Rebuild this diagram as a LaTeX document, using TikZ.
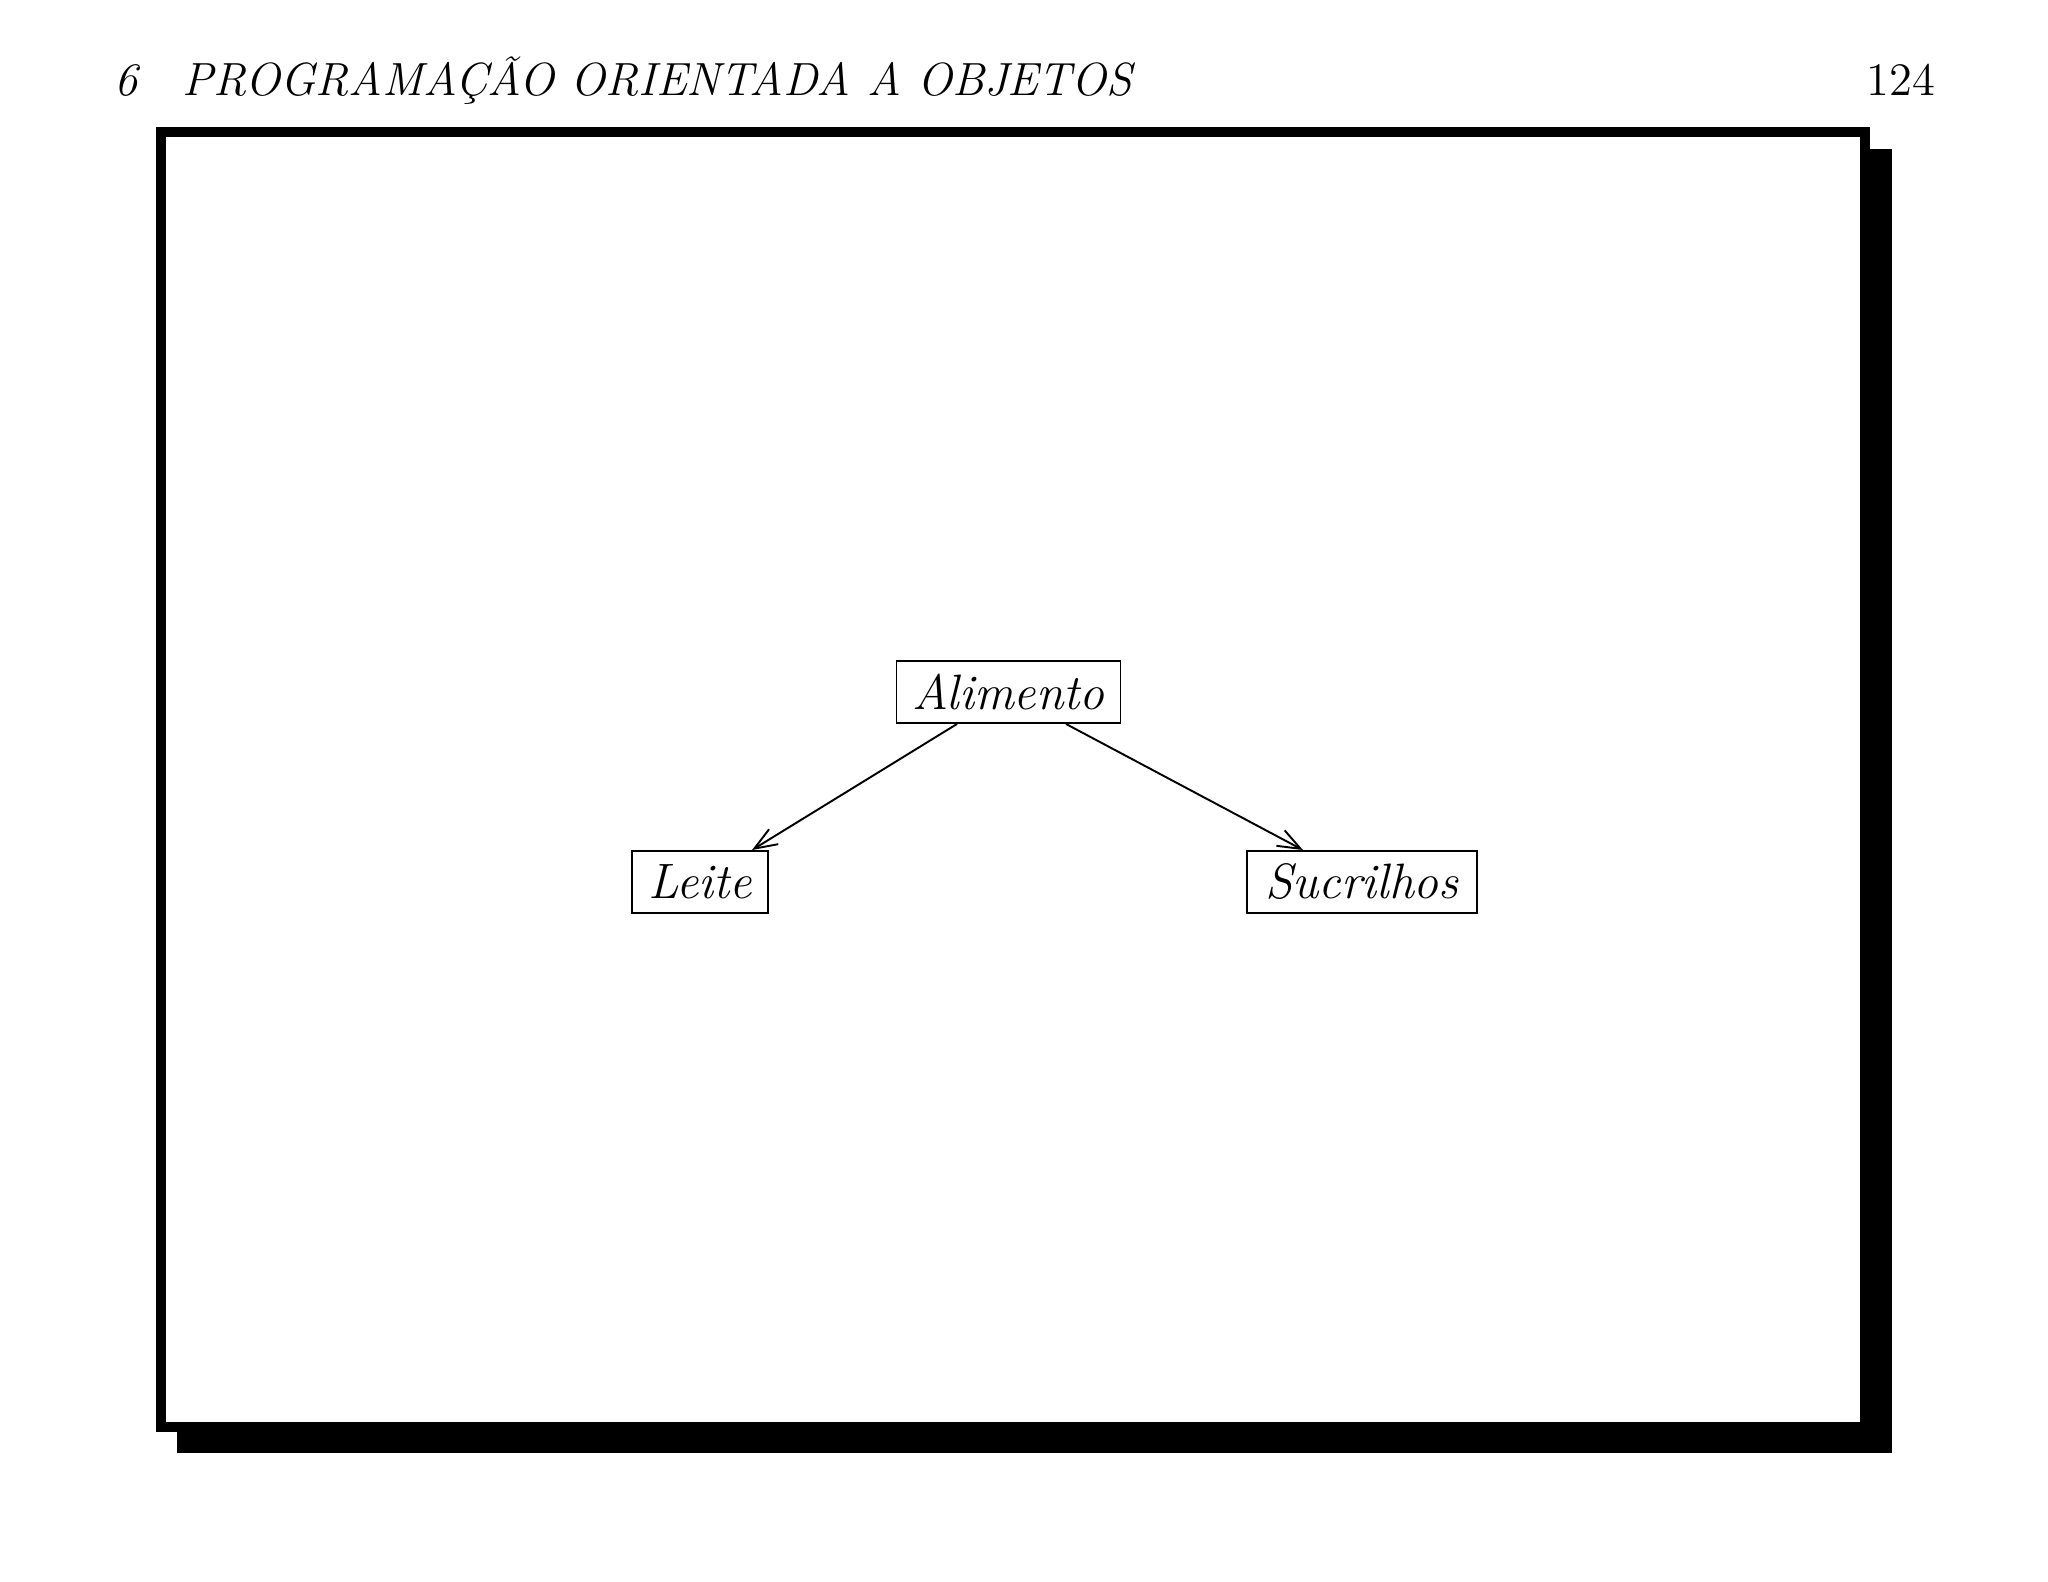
\documentclass[tikz,border=0pt]{standalone}
\usepackage{fontspec}
\usetikzlibrary{arrows.meta,calc}
\begin{document}
\begin{tikzpicture}[x=0.285714pt,y=-0.285714pt,
  cls/.style={draw,line width=0.55pt,inner sep=0pt,minimum height=62*0.285714pt,font=\fontsize{14.2}{17}\selectfont\itshape},
  inh/.style={line width=0.55pt,-{Straight Barb[length=6.5pt,width=5pt]}},
  hdr/.style={inner sep=0pt,font=\fontsize{13.3}{16}\selectfont}]
\useasboundingbox (0,0) rectangle (2048,1582);
% shadow and frame
\fill[black] (177,149) rectangle (1892,1453);
\draw[line width=10*0.285714pt,fill=white] (161,132) rectangle (1865,1427);
% header
\node[hdr,anchor=base west] (chap) at (114,96) {\itshape 6};
\node[hdr,anchor=base west] (title) at (182,96) {\itshape PROGRAMAÇÃO ORIENTADA A OBJETOS};
\node[hdr,anchor=base east] (page) at (1936,96) {124};
% classes
\node[cls,minimum width=224*0.285714pt] (alim) at (1008.5,692) {Alimento};
\node[cls,minimum width=136*0.285714pt] (leite) at (700,882) {Leite};
\node[cls,minimum width=230*0.285714pt] (sucr) at (1362,882) {Sucrilhos};
% arrows
\draw[inh] ($(alim.south)+(-51.5,0)$) -- ($(leite.north)+(52,0)$);
\draw[inh] ($(alim.south)+(57.5,0)$) -- ($(sucr.north)+(-59,0)$);
\end{tikzpicture}
\end{document}
